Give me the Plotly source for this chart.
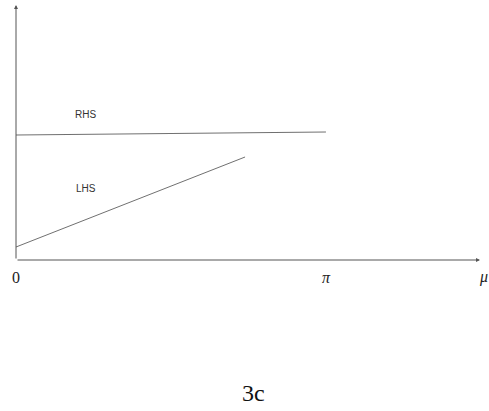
import math
import plotly.graph_objects as go

# data (x in units of mu, y arbitrary)
rhs_x = [0.0, math.pi]
rhs_y = [1.25, 1.28]
lhs_x = [0.0, 0.739 * math.pi]
lhs_y = [0.13, 1.03]
tick_vals = [0.0, math.pi]
tick_text = ["0", "<i>π</i>"]
x_max = 1.497 * math.pi
y_max = 2.55

W, H = 489, 411
fig = go.Figure()
fig.add_trace(go.Scatter(x=rhs_x, y=rhs_y, mode="lines",
                         line=dict(color="#707070", width=1.2), showlegend=False))
fig.add_trace(go.Scatter(x=lhs_x, y=lhs_y, mode="lines",
                         line=dict(color="#707070", width=1.0), showlegend=False))

axis_col = "#555555"
# axes with arrowheads
fig.add_annotation(x=x_max, y=0, ax=0, ay=0, xref="x", yref="y", axref="x", ayref="y",
                   showarrow=True, arrowhead=2, arrowsize=0.8, arrowwidth=1, arrowcolor=axis_col, text="")
fig.add_annotation(x=0, y=y_max, ax=0, ay=0, xref="x", yref="y", axref="x", ayref="y",
                   showarrow=True, arrowhead=2, arrowsize=0.8, arrowwidth=1, arrowcolor=axis_col, text="")

fig.add_annotation(x=0.225 * math.pi, y=1.46, xref="x", yref="y", text="RHS", showarrow=False,
                   font=dict(family="Liberation Sans", size=10, color="#333"))
fig.add_annotation(x=0.225 * math.pi, y=0.72, xref="x", yref="y", text="LHS", showarrow=False,
                   font=dict(family="Liberation Sans", size=10, color="#333"))
fig.add_annotation(x=483 / W, y=(H - 277) / H, xref="paper", yref="paper", xanchor="center", yanchor="middle",
                   text="<i>μ</i>", showarrow=False,
                   font=dict(family="Liberation Serif", size=16, color="#222"))
fig.add_annotation(x=253 / W, y=(H - 393) / H, xref="paper", yref="paper", xanchor="center", yanchor="middle",
                   text="3c", showarrow=False,
                   font=dict(family="Liberation Serif", size=24, color="#111"))

fig.update_layout(
    width=W, height=H, margin=dict(l=0, r=0, t=0, b=0, autoexpand=False),
    paper_bgcolor="white", plot_bgcolor="white",
    xaxis=dict(domain=[16 / W, 480 / W], range=[0, x_max], showgrid=False, zeroline=False,
               showline=False, tickvals=tick_vals, ticktext=tick_text, ticks="", automargin=False,
               ticklabelstandoff=6,
               tickfont=dict(family="Liberation Serif", size=16, color="#222")),
    yaxis=dict(domain=[(H - 260) / H, (H - 5) / H], range=[0, y_max], showgrid=False,
               zeroline=False, showline=False, showticklabels=False, ticks="", automargin=False),
)
fig.write_html("out.html", config={"displayModeBar": False},
               post_script="document.body.style.margin='0';")
